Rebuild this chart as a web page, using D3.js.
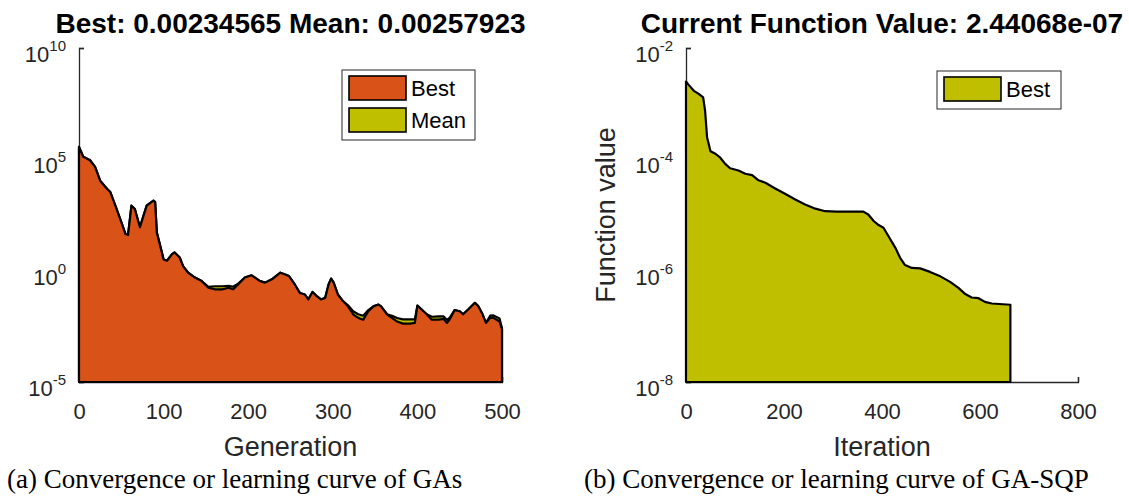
<!DOCTYPE html>
<html>
<head>
<meta charset="utf-8">
<script src="https://cdn.jsdelivr.net/npm/d3@7"></script>
<style>
    body { margin: 0; background: #fff; }
    svg { display: block; }
</style>
</head>
<body>
<div id="chart"></div>
<script>
// GA run: generation / best / mean fitness
const gaGen = [0, 5, 13, 19, 25, 33, 37, 43, 50, 55, 58, 62, 66, 72, 80, 88, 90, 92, 96, 100,
    104, 110, 113, 119, 123, 129, 137, 145, 153, 161, 169, 177, 182, 188, 196, 204, 208, 214, 220, 228,
    238, 243, 248, 255, 261, 267, 271, 276, 281, 286, 291, 295, 298, 301, 306, 312, 318, 324, 330, 336,
    342, 348, 354, 357, 364, 370, 376, 383, 391, 397, 400, 405, 411, 417, 425, 431, 435, 438, 444, 450,
    454, 460, 468, 472, 477, 481, 486, 490, 497, 500];
const gaBest = [3.6e5, 1.3e5, 9.1e4, 4.6e4, 1.1e4, 4.8e3, 3.4e3, 830, 150, 44, 40, 830, 590, 89, 830, 1.4e3, 1.2e3, 52, 13, 3.2,
    2.8, 5.5, 6.6, 3.9, 1.6, 0.81, 0.49, 0.34, 0.17, 0.145, 0.145, 0.17, 0.145, 0.24, 0.49, 0.62, 0.49, 0.34, 0.29, 0.41,
    0.81, 0.69, 0.58, 0.24, 0.10, 0.085, 0.051, 0.11, 0.072, 0.051, 0.060, 0.24, 0.44, 0.29, 0.085, 0.043, 0.025, 0.011, 0.0076, 0.0063,
    0.015, 0.025, 0.030, 0.025, 0.011, 0.0076, 0.0052, 0.0042, 0.0042, 0.0045, 0.027, 0.018, 0.011, 0.0063, 0.0063, 0.0068, 0.0045, 0.0063, 0.017, 0.015,
    0.011, 0.018, 0.036, 0.025, 0.011, 0.0045, 0.0076, 0.0076, 0.0052, 0.00235];
const gaMean = [3.6e5, 1.3e5, 9.1e4, 4.6e4, 1.1e4, 4.8e3, 3.4e3, 830, 150, 44, 40, 830, 590, 89, 830, 1.4e3, 1.2e3, 52, 13, 3.2,
    2.8, 5.5, 6.6, 3.9, 1.6, 0.81, 0.49, 0.34, 0.19, 0.2, 0.2, 0.21, 0.19, 0.26, 0.49, 0.62, 0.49, 0.34, 0.29, 0.41,
    0.81, 0.69, 0.58, 0.24, 0.10, 0.085, 0.051, 0.11, 0.072, 0.051, 0.060, 0.24, 0.44, 0.29, 0.085, 0.043, 0.028, 0.015, 0.011, 0.0095,
    0.017, 0.025, 0.030, 0.025, 0.011, 0.0095, 0.0075, 0.0065, 0.0065, 0.0065, 0.027, 0.018, 0.011, 0.0085, 0.0088, 0.0088, 0.0062, 0.0075, 0.017, 0.015,
    0.011, 0.018, 0.036, 0.025, 0.011, 0.0045, 0.0095, 0.0098, 0.0072, 0.00258];
const gaXTicks = [0, 100, 200, 300, 400, 500];
const gaYTicks = [1e-5, 1e0, 1e5, 1e10];

// GA-SQP run: iteration / current function value
const sqpIter = [0, 5, 16, 26, 35, 39, 43, 50, 60, 70, 80, 90, 107, 121, 135, 148, 162, 182, 202, 223,
    243, 264, 284, 308, 335, 362, 372, 383, 393, 403, 413, 427, 437, 447, 461, 478, 498, 519, 539, 556,
    570, 583, 597, 610, 624, 662];
const sqpBest = [2.5e-3, 2.2e-3, 1.7e-3, 1.5e-3, 1.3e-3, 7.4e-4, 2.5e-4, 1.4e-4, 1.26e-4, 1.07e-4, 8.3e-5, 6.9e-5, 6.3e-5, 5.5e-5, 5.2e-5, 4.2e-5, 3.8e-5, 3.0e-5, 2.4e-5, 1.9e-5,
    1.55e-5, 1.3e-5, 1.17e-5, 1.15e-5, 1.15e-5, 1.15e-5, 1.02e-5, 7.8e-6, 6.6e-6, 5.9e-6, 4.2e-6, 2.6e-6, 1.7e-6, 1.26e-6, 1.12e-6, 1.1e-6, 9.5e-7, 7.9e-7, 6.3e-7, 4.9e-7,
    3.8e-7, 3.3e-7, 3.2e-7, 2.75e-7, 2.57e-7, 2.44e-7];
const sqpXTicks = [0, 200, 400, 600, 800];
const sqpYTicks = [1e-8, 1e-6, 1e-4, 1e-2];

const config = {
    "orange": "#D95319",
    "olive": "#BFBF00",
    "axis": "#262626",
    "sans": "'Liberation Sans', Arial, Helvetica, sans-serif",
    "serif": "'Liberation Serif', 'Times New Roman', serif"
}

const W = 1129, H = 499;
const plotTop = 48, plotBottom = 382;

const svg = d3.select("#chart")
    .append("svg")
    .attr("width", W)
    .attr("height", H);

const drawPanel = (p) => {
    const x = d3.scaleLinear().domain(p.xDomain).range(p.xRange);
    const y = d3.scaleLog().domain(p.yDomain).range([plotBottom, plotTop]);
    const g = svg.append("g");

    // axes go below the areas, like the matlab plot
    const xAxis = g.append("g")
        .attr("transform", `translate(0,${plotBottom})`)
        .call(d3.axisBottom(x).tickValues(p.xTicks).tickSizeInner(-5).tickSizeOuter(-5).tickPadding(21));
    xAxis.selectAll("text")
        .attr("font-family", config.sans)
        .attr("font-size", 22)
        .attr("fill", config.axis);

    g.append("g")
        .attr("transform", `translate(${p.xRange[0]},0)`)
        .call(d3.axisLeft(y).tickValues(p.yTicks).tickSizeInner(-5).tickSizeOuter(-5).tickFormat(""));

    g.selectAll(".domain, .tick line")
        .attr("stroke", config.axis)
        .attr("stroke-width", 1.3);

    // 10^n labels
    const yl = g.selectAll(".ylab")
        .data(p.yTicks)
        .enter()
        .append("text")
        .attr("class", "ylab")
        .attr("x", p.xRange[0] - 13)
        .attr("y", d => y(d) + 14)
        .attr("text-anchor", "end")
        .attr("font-family", config.sans)
        .attr("font-size", 22)
        .attr("fill", config.axis);
    yl.append("tspan").text("10");
    yl.append("tspan")
        .attr("dy", -11)
        .attr("font-size", 15)
        .text(d => Math.round(Math.log10(d)));

    // areas
    p.series.forEach(s => {
        const pts = s.xs.map((v, i) => [v, s.ys[i]]);
        const area = d3.area()
            .x(d => x(d[0]))
            .y0(y(p.yDomain[0]))
            .y1(d => y(d[1]));
        g.append("path")
            .attr("d", area(pts) + "Z")
            .attr("fill", s.color)
            .attr("stroke", "#000")
            .attr("stroke-width", 2.2)
            .attr("stroke-linejoin", "round");
    });

    // title
    g.append("text")
        .attr("x", (p.xRange[0] + p.xRange[1]) / 2)
        .attr("y", 33)
        .attr("text-anchor", "middle")
        .attr("font-family", config.sans)
        .attr("font-weight", "bold")
        .attr("font-size", 28)
        .attr("fill", "#000")
        .text(p.title);

    // x label
    g.append("text")
        .attr("x", (p.xRange[0] + p.xRange[1]) / 2)
        .attr("y", 456)
        .attr("text-anchor", "middle")
        .attr("font-family", config.sans)
        .attr("font-size", 27)
        .attr("fill", config.axis)
        .text(p.xLabel);

    if (p.yLabel) {
        g.append("text")
            .attr("transform", `translate(${p.yLabelX},${(plotTop + plotBottom) / 2}) rotate(-90)`)
            .attr("text-anchor", "middle")
            .attr("font-family", config.sans)
            .attr("font-size", 27)
            .attr("fill", config.axis)
            .text(p.yLabel);
    }

    // legend
    const lg = g.append("g").attr("transform", `translate(${p.legend.x},${p.legend.y})`);
    lg.append("rect")
        .attr("width", p.legend.w)
        .attr("height", 8 + p.legend.items.length * 32 - 2)
        .attr("fill", "#fff")
        .attr("stroke", config.axis)
        .attr("stroke-width", 1);
    const items = lg.selectAll(".item")
        .data(p.legend.items)
        .enter()
        .append("g")
        .attr("transform", (d, i) => `translate(7,${6 + i * 32})`);
    items.append("rect")
        .attr("width", 57)
        .attr("height", 24)
        .attr("fill", d => d.color)
        .attr("stroke", "#000")
        .attr("stroke-width", 1.6);
    items.append("text")
        .attr("x", 62)
        .attr("y", 20)
        .attr("font-family", config.sans)
        .attr("font-size", 22)
        .attr("fill", "#000")
        .text(d => d.name);

    // caption under the panel
    svg.append("text")
        .attr("x", p.captionX)
        .attr("y", 488)
        .attr("font-family", config.serif)
        .attr("font-size", 27)
        .attr("fill", "#000")
        .text(p.caption);
}

drawPanel({
    xDomain: [0, 500], xRange: [79, 502], yDomain: [1e-5, 1e10],
    xTicks: gaXTicks, yTicks: gaYTicks,
    series: [
        { xs: gaGen, ys: gaMean, color: config.olive },
        { xs: gaGen, ys: gaBest, color: config.orange }
    ],
    title: "Best: 0.00234565 Mean: 0.00257923",
    xLabel: "Generation",
    legend: { x: 342, y: 70, w: 133, items: [{ name: "Best", color: config.orange }, { name: "Mean", color: config.olive }] },
    caption: "(a) Convergence or learning curve of GAs",
    captionX: 7
});

drawPanel({
    xDomain: [0, 800], xRange: [686, 1078], yDomain: [1e-8, 1e-2],
    xTicks: sqpXTicks, yTicks: sqpYTicks,
    series: [
        { xs: sqpIter, ys: sqpBest, color: config.olive }
    ],
    title: "Current Function Value: 2.44068e-07",
    xLabel: "Iteration",
    yLabel: "Function value",
    yLabelX: 615,
    legend: { x: 937, y: 71, w: 124, items: [{ name: "Best", color: config.olive }] },
    caption: "(b) Convergence or learning curve of GA-SQP",
    captionX: 584
});
</script>
</body>
</html>
